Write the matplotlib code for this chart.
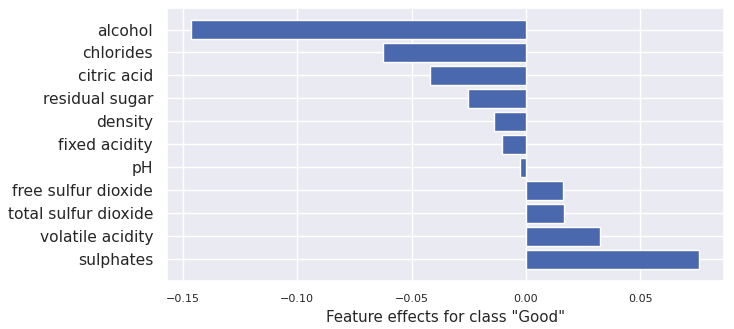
import matplotlib
matplotlib.use("Agg")
import matplotlib.pyplot as plt
import seaborn as sns

features = ["alcohol", "chlorides", "citric acid", "residual sugar", "density",
            "fixed acidity", "pH", "free sulfur dioxide", "total sulfur dioxide",
            "volatile acidity", "sulphates"]
effects = [-0.1466, -0.0626, -0.0420, -0.0254, -0.0140, -0.0105, -0.0026,
           0.0162, 0.0167, 0.0324, 0.0757]

sns.set_theme(style="darkgrid")

fig = plt.figure(figsize=(7.34, 3.29), dpi=100)
ax = fig.add_axes([0.2275, 0.146, 0.759, 0.83])

ax.barh(features, effects, color="#4a68ae", edgecolor="white", linewidth=1)
ax.invert_yaxis()
ax.set_xlim(-0.157, 0.0867)
ax.tick_params(axis="y", labelsize=11.2, pad=4)
ax.tick_params(axis="x", labelsize=8)
ax.set_xlabel('Feature effects for class "Good"', fontsize=10.8, labelpad=4)

fig.savefig("out.png", dpi=100)
